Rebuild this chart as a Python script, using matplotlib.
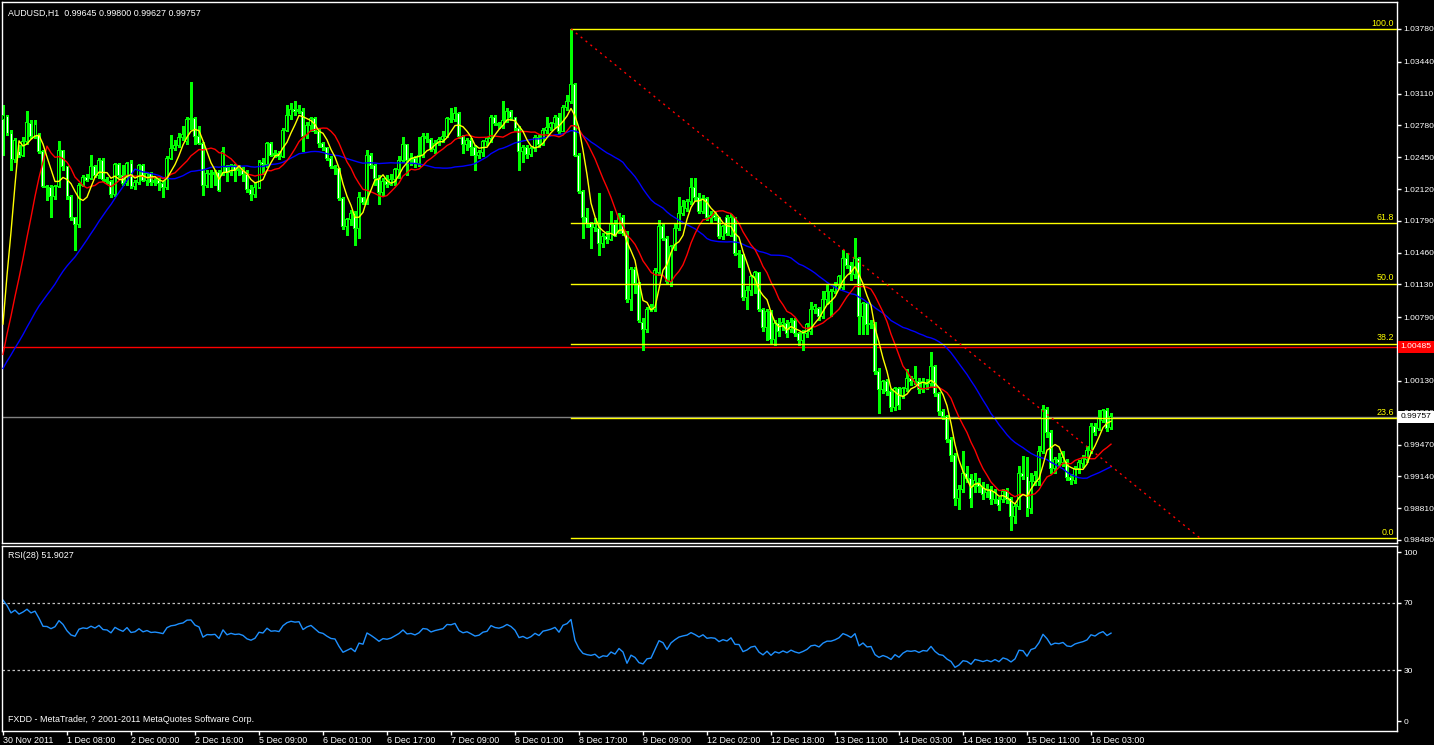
import numpy as np
import pandas as pd
import matplotlib
matplotlib.use("Agg")
import matplotlib.pyplot as plt
from matplotlib import transforms

plt.rcParams['font.family'] = ['Liberation Sans', 'DejaVu Sans']

# -------------------------------
# DATA: AUDUSD H1, first bar 30 Nov 2011 16:00
# -------------------------------
opens = [
    1.0284, 1.0287, 1.0270, 1.0243, 1.0251, 1.0247, 1.0261, 1.0280, 1.0267, 1.0268,
    1.0251, 1.0215, 1.0214, 1.0204, 1.0215, 1.0252, 1.0235, 1.0204, 1.0182, 1.0175,
    1.0216, 1.0224, 1.0223, 1.0235, 1.0226, 1.0242, 1.0222, 1.0220, 1.0206, 1.0237,
    1.0226, 1.0218, 1.0239, 1.0215, 1.0219, 1.0236, 1.0221, 1.0228, 1.0219, 1.0221,
    1.0218, 1.0214, 1.0244, 1.0254, 1.0257, 1.0265, 1.0261, 1.0284, 1.0285, 1.0266,
    1.0259, 1.0216, 1.0228, 1.0227, 1.0229, 1.0228, 1.0234, 1.0229, 1.0236, 1.0231,
    1.0233, 1.0227, 1.0212, 1.0206, 1.0214, 1.0240, 1.0237, 1.0259, 1.0247, 1.0249,
    1.0246, 1.0273, 1.0288, 1.0295, 1.0292, 1.0292, 1.0268, 1.0278, 1.0285, 1.0272,
    1.0259, 1.0255, 1.0244, 1.0235, 1.0233, 1.0202, 1.0173, 1.0180, 1.0187, 1.0171,
    1.0203, 1.0198, 1.0247, 1.0236, 1.0223, 1.0208, 1.0220, 1.0217, 1.0222, 1.0232,
    1.0242, 1.0258, 1.0242, 1.0244, 1.0238, 1.0247, 1.0266, 1.0263, 1.0253, 1.0259,
    1.0263, 1.0267, 1.0285, 1.0284, 1.0290, 1.0266, 1.0258, 1.0262, 1.0255, 1.0247,
    1.0250, 1.0261, 1.0264, 1.0286, 1.0280, 1.0278, 1.0283, 1.0292, 1.0286, 1.0275,
    1.0251, 1.0255, 1.0248, 1.0254, 1.0265, 1.0258, 1.0273, 1.0276, 1.0280, 1.0286,
    1.0272, 1.0297, 1.0303, 1.0320, 1.0247, 1.0209, 1.0183, 1.0176, 1.0172, 1.0171,
    1.0156, 1.0163, 1.0160, 1.0175, 1.0168, 1.0183, 1.0166, 1.0097, 1.0129, 1.0114,
    1.0074, 1.0066, 1.0087, 1.0087, 1.0125, 1.0173, 1.0161, 1.0116, 1.0151, 1.0171,
    1.0187, 1.0192, 1.0199, 1.0214, 1.0203, 1.0189, 1.0202, 1.0182, 1.0185, 1.0182,
    1.0163, 1.0182, 1.0164, 1.0182, 1.0145, 1.0144, 1.0099, 1.0107, 1.0121, 1.0125,
    1.0087, 1.0068, 1.0085, 1.0056, 1.0073, 1.0071, 1.0073, 1.0066, 1.0076, 1.0062,
    1.0055, 1.0062, 1.0064, 1.0087, 1.0088, 1.0080, 1.0097, 1.0093, 1.0106, 1.0112,
    1.0110, 1.0140, 1.0133, 1.0123, 1.0140, 1.0080, 1.0093, 1.0071, 1.0071, 1.0023,
    1.0004, 1.0012, 1.0002, 0.9985, 1.0005, 0.9998, 1.0005, 1.0015, 1.0012, 1.0012,
    1.0004, 1.0011, 1.0010, 1.0028, 1.0000, 0.9981, 0.9976, 0.9952, 0.9936, 0.9891,
    0.9900, 0.9917, 0.9912, 0.9903, 0.9908, 0.9903, 0.9897, 0.9900, 0.9890, 0.9890,
    0.9890, 0.9898, 0.9891, 0.9872, 0.9883, 0.9917, 0.9914, 0.9881, 0.9909, 0.9909,
    0.9940, 0.9983, 0.9959, 0.9922, 0.9931, 0.9928, 0.9929, 0.9913, 0.9910, 0.9922,
    0.9927, 0.9931, 0.9941, 0.9966, 0.9964, 0.9972, 0.9982, 0.99645,
]
highs = [
    1.0299, 1.0289, 1.0273, 1.0265, 1.0258, 1.0266, 1.0293, 1.0284, 1.0284, 1.0270,
    1.0253, 1.0216, 1.0216, 1.0216, 1.0262, 1.0253, 1.0236, 1.0206, 1.0183, 1.0218,
    1.0227, 1.0228, 1.0247, 1.0237, 1.0244, 1.0244, 1.0225, 1.0221, 1.0239, 1.0239,
    1.0237, 1.0240, 1.0242, 1.0221, 1.0238, 1.0238, 1.0230, 1.0230, 1.0225, 1.0223,
    1.0220, 1.0246, 1.0268, 1.0263, 1.0270, 1.0277, 1.0287, 1.0323, 1.0287, 1.0277,
    1.0261, 1.0232, 1.0232, 1.0232, 1.0232, 1.0256, 1.0237, 1.0238, 1.0238, 1.0237,
    1.0235, 1.0232, 1.0216, 1.0218, 1.0242, 1.0244, 1.0261, 1.0261, 1.0252, 1.0251,
    1.0275, 1.0299, 1.0301, 1.0303, 1.0299, 1.0296, 1.0282, 1.0287, 1.0287, 1.0275,
    1.0261, 1.0256, 1.0246, 1.0237, 1.0234, 1.0204, 1.0182, 1.0190, 1.0189, 1.0209,
    1.0204, 1.0252, 1.0249, 1.0238, 1.0227, 1.0223, 1.0227, 1.0228, 1.0234, 1.0246,
    1.0266, 1.0259, 1.0249, 1.0246, 1.0266, 1.0270, 1.0270, 1.0265, 1.0263, 1.0266,
    1.0272, 1.0287, 1.0296, 1.0297, 1.0292, 1.0268, 1.0265, 1.0265, 1.0258, 1.0253,
    1.0263, 1.0266, 1.0289, 1.0289, 1.0282, 1.0303, 1.0296, 1.0294, 1.0287, 1.0277,
    1.0258, 1.0258, 1.0256, 1.0268, 1.0268, 1.0275, 1.0287, 1.0282, 1.0289, 1.0291,
    1.0299, 1.0310, 1.0378, 1.0322, 1.0249, 1.0211, 1.0192, 1.0178, 1.0182, 1.0208,
    1.0166, 1.0168, 1.0189, 1.0180, 1.0187, 1.0185, 1.0168, 1.0131, 1.0131, 1.0116,
    1.0078, 1.0090, 1.0093, 1.0130, 1.0180, 1.0177, 1.0163, 1.0154, 1.0177, 1.0204,
    1.0201, 1.0202, 1.0223, 1.0223, 1.0208, 1.0206, 1.0204, 1.0189, 1.0189, 1.0183,
    1.0175, 1.0185, 1.0186, 1.0183, 1.0149, 1.0145, 1.0111, 1.0123, 1.0127, 1.0126,
    1.0089, 1.0088, 1.0087, 1.0076, 1.0078, 1.0078, 1.0076, 1.0078, 1.0078, 1.0064,
    1.0066, 1.0073, 1.0095, 1.0093, 1.0090, 1.0106, 1.0112, 1.0108, 1.0116, 1.0123,
    1.0149, 1.0146, 1.0136, 1.0161, 1.0142, 1.0095, 1.0095, 1.0076, 1.0074, 1.0026,
    1.0014, 1.0015, 1.0005, 1.0007, 1.0007, 1.0007, 1.0025, 1.0018, 1.0028, 1.0016,
    1.0016, 1.0015, 1.0043, 1.0030, 1.0002, 0.9984, 0.9978, 0.9955, 0.9938, 0.9905,
    0.9940, 0.9925, 0.9916, 0.9917, 0.9912, 0.9908, 0.9906, 0.9904, 0.9901, 0.9893,
    0.9901, 0.9902, 0.9893, 0.9885, 0.9925, 0.9935, 0.9934, 0.9917, 0.9920, 0.9946,
    0.9988, 0.9986, 0.9962, 0.9934, 0.9938, 0.9940, 0.9932, 0.9916, 0.9925, 0.9931,
    0.9936, 0.9945, 0.9969, 0.9969, 0.9983, 0.9984, 0.9985, 0.99800,
]
lows = [
    1.0247, 1.0268, 1.0232, 1.0240, 1.0245, 1.0246, 1.0259, 1.0265, 1.0265, 1.0249,
    1.0214, 1.0201, 1.0183, 1.0202, 1.0214, 1.0232, 1.0202, 1.0180, 1.0149, 1.0173,
    1.0215, 1.0220, 1.0222, 1.0224, 1.0223, 1.0220, 1.0218, 1.0204, 1.0205, 1.0224,
    1.0216, 1.0216, 1.0213, 1.0212, 1.0217, 1.0220, 1.0216, 1.0216, 1.0216, 1.0211,
    1.0204, 1.0212, 1.0243, 1.0253, 1.0256, 1.0263, 1.0259, 1.0274, 1.0259, 1.0259,
    1.0206, 1.0214, 1.0214, 1.0216, 1.0210, 1.0227, 1.0220, 1.0227, 1.0220, 1.0227,
    1.0220, 1.0209, 1.0201, 1.0204, 1.0213, 1.0228, 1.0235, 1.0246, 1.0245, 1.0243,
    1.0245, 1.0272, 1.0285, 1.0289, 1.0291, 1.0251, 1.0265, 1.0272, 1.0270, 1.0256,
    1.0252, 1.0242, 1.0234, 1.0228, 1.0201, 1.0171, 1.0164, 1.0175, 1.0154, 1.0161,
    1.0196, 1.0197, 1.0234, 1.0216, 1.0197, 1.0206, 1.0214, 1.0216, 1.0216, 1.0223,
    1.0240, 1.0227, 1.0237, 1.0235, 1.0236, 1.0245, 1.0261, 1.0251, 1.0249, 1.0258,
    1.0261, 1.0266, 1.0282, 1.0283, 1.0265, 1.0249, 1.0253, 1.0247, 1.0232, 1.0244,
    1.0246, 1.0258, 1.0261, 1.0278, 1.0275, 1.0275, 1.0282, 1.0284, 1.0273, 1.0232,
    1.0240, 1.0244, 1.0246, 1.0251, 1.0256, 1.0258, 1.0270, 1.0273, 1.0276, 1.0270,
    1.0272, 1.0294, 1.0301, 1.0246, 1.0208, 1.0161, 1.0173, 1.0151, 1.0168, 1.0144,
    1.0152, 1.0156, 1.0159, 1.0163, 1.0166, 1.0164, 1.0095, 1.0087, 1.0104, 1.0074,
    1.0045, 1.0064, 1.0085, 1.0085, 1.0123, 1.0159, 1.0114, 1.0111, 1.0149, 1.0170,
    1.0185, 1.0189, 1.0197, 1.0201, 1.0187, 1.0187, 1.0180, 1.0177, 1.0180, 1.0161,
    1.0160, 1.0164, 1.0163, 1.0144, 1.0131, 1.0097, 1.0088, 1.0102, 1.0104, 1.0085,
    1.0065, 1.0055, 1.0052, 1.0050, 1.0060, 1.0066, 1.0059, 1.0064, 1.0060, 1.0050,
    1.0045, 1.0059, 1.0062, 1.0083, 1.0076, 1.0078, 1.0093, 1.0080, 1.0104, 1.0108,
    1.0108, 1.0130, 1.0118, 1.0120, 1.0062, 1.0062, 1.0062, 1.0068, 1.0020, 0.9980,
    1.0000, 0.9998, 0.9982, 0.9983, 0.9984, 0.9995, 1.0003, 1.0009, 1.0010, 1.0000,
    1.0001, 1.0005, 1.0008, 0.9997, 0.9978, 0.9974, 0.9950, 0.9930, 0.9884, 0.9880,
    0.9898, 0.9908, 0.9882, 0.9898, 0.9898, 0.9890, 0.9893, 0.9885, 0.9886, 0.9879,
    0.9887, 0.9886, 0.9858, 0.9866, 0.9880, 0.9911, 0.9873, 0.9876, 0.9905, 0.9905,
    0.9938, 0.9955, 0.9918, 0.9918, 0.9925, 0.9925, 0.9910, 0.9906, 0.9907, 0.9918,
    0.9924, 0.9929, 0.9938, 0.9957, 0.9962, 0.9970, 0.9961, 0.99627,
]
closes = [
    1.0288, 1.0270, 1.0243, 1.0262, 1.0247, 1.0261, 1.0281, 1.0267, 1.0279, 1.0251,
    1.0215, 1.0214, 1.0204, 1.0215, 1.0252, 1.0235, 1.0204, 1.0182, 1.0175, 1.0216,
    1.0224, 1.0221, 1.0235, 1.0226, 1.0242, 1.0222, 1.0220, 1.0206, 1.0237, 1.0226,
    1.0218, 1.0239, 1.0215, 1.0219, 1.0236, 1.0221, 1.0228, 1.0219, 1.0221, 1.0218,
    1.0214, 1.0244, 1.0254, 1.0257, 1.0265, 1.0269, 1.0284, 1.0285, 1.0266, 1.0259,
    1.0216, 1.0228, 1.0227, 1.0229, 1.0211, 1.0251, 1.0229, 1.0236, 1.0231, 1.0233,
    1.0227, 1.0212, 1.0206, 1.0214, 1.0240, 1.0237, 1.0259, 1.0247, 1.0249, 1.0246,
    1.0273, 1.0288, 1.0295, 1.0292, 1.0294, 1.0266, 1.0278, 1.0285, 1.0272, 1.0259,
    1.0255, 1.0244, 1.0235, 1.0233, 1.0202, 1.0173, 1.0180, 1.0187, 1.0171, 1.0203,
    1.0198, 1.0247, 1.0236, 1.0223, 1.0208, 1.0220, 1.0217, 1.0222, 1.0232, 1.0242,
    1.0258, 1.0242, 1.0244, 1.0238, 1.0247, 1.0266, 1.0264, 1.0253, 1.0259, 1.0263,
    1.0267, 1.0285, 1.0284, 1.0290, 1.0266, 1.0258, 1.0262, 1.0255, 1.0247, 1.0250,
    1.0261, 1.0264, 1.0286, 1.0280, 1.0278, 1.0283, 1.0292, 1.0286, 1.0275, 1.0251,
    1.0255, 1.0248, 1.0254, 1.0265, 1.0258, 1.0273, 1.0276, 1.0280, 1.0286, 1.0272,
    1.0297, 1.0303, 1.0320, 1.0247, 1.0209, 1.0183, 1.0176, 1.0172, 1.0176, 1.0156,
    1.0163, 1.0160, 1.0175, 1.0164, 1.0184, 1.0166, 1.0097, 1.0129, 1.0114, 1.0076,
    1.0066, 1.0087, 1.0090, 1.0128, 1.0173, 1.0161, 1.0116, 1.0152, 1.0171, 1.0187,
    1.0194, 1.0199, 1.0214, 1.0203, 1.0189, 1.0202, 1.0182, 1.0185, 1.0182, 1.0163,
    1.0173, 1.0166, 1.0182, 1.0145, 1.0144, 1.0099, 1.0107, 1.0121, 1.0125, 1.0087,
    1.0068, 1.0085, 1.0056, 1.0073, 1.0064, 1.0074, 1.0062, 1.0074, 1.0062, 1.0055,
    1.0062, 1.0071, 1.0087, 1.0090, 1.0080, 1.0097, 1.0106, 1.0106, 1.0112, 1.0121,
    1.0140, 1.0133, 1.0123, 1.0140, 1.0080, 1.0093, 1.0071, 1.0073, 1.0023, 1.0004,
    1.0012, 1.0002, 0.9985, 1.0005, 0.9987, 1.0005, 1.0015, 1.0012, 1.0015, 1.0004,
    1.0012, 1.0009, 1.0028, 1.0000, 0.9981, 0.9976, 0.9952, 0.9936, 0.9891, 0.9900,
    0.9917, 0.9912, 0.9891, 0.9910, 0.9903, 0.9895, 0.9900, 0.9890, 0.9898, 0.9884,
    0.9898, 0.9890, 0.9872, 0.9883, 0.9917, 0.9914, 0.9881, 0.9909, 0.9915, 0.9940,
    0.9983, 0.9959, 0.9922, 0.9931, 0.9928, 0.9934, 0.9913, 0.9910, 0.9922, 0.9928,
    0.9933, 0.9941, 0.9966, 0.9960, 0.9974, 0.9982, 0.9964, 0.99757,
]

time_labels = [
    "30 Nov 2011", "1 Dec 08:00", "2 Dec 00:00", "2 Dec 16:00", "5 Dec 09:00",
    "6 Dec 01:00", "6 Dec 17:00", "7 Dec 09:00", "8 Dec 01:00", "8 Dec 17:00",
    "9 Dec 09:00", "12 Dec 02:00", "12 Dec 18:00", "13 Dec 11:00", "14 Dec 03:00",
    "14 Dec 19:00", "15 Dec 11:00", "16 Dec 03:00",
]
bars_per_label = 16

price_ticks = [1.03780, 1.03440, 1.03110, 1.02780, 1.02450, 1.02120, 1.01790,
               1.01460, 1.01130, 1.00790, 1.00460, 1.00130, 0.99800, 0.99470,
               0.99140, 0.98810, 0.98480]
rsi_ticks = [100, 70, 30, 0]
rsi_levels = [70, 30]

fib_bars = [142, 299.25]
fib_prices = [1.0378, 0.9850]
fib_levels = [0.0, 23.6, 38.2, 50.0, 61.8, 100.0]

hline_price = 1.00485
bid_price = 0.99757

ma_periods = [5, 12, 34]
ma_colors = ['#FFFF00', '#FF0000', '#0000FF']
pre_close = 1.0018      # price level before the first bar on screen
rsi_period = 28
rsi_start = 71.5

title_text = "AUDUSD,H1  0.99645 0.99800 0.99627 0.99757"
rsi_text = "RSI(28) 51.9027"
footer_text = "FXDD - MetaTrader, ? 2001-2011 MetaQuotes Software Corp."

assert len(opens) == len(highs) == len(lows) == len(closes)

# -------------------------------
# FIGURE LAYOUT (pixels of a 1434x745 window)
# -------------------------------
W, H = 1434, 745
fig = plt.figure(figsize=(W / 100, H / 100), dpi=100, facecolor='black')


def px_axes(x0, y0, x1, y1):
    return fig.add_axes([x0 / W, 1 - y1 / H, (x1 - x0) / W, (y1 - y0) / H])


ax = px_axes(2, 2, 1397, 543)
ax_rsi = px_axes(2, 546, 1397, 731)

FG = 'white'
LIME = '#00FF00'
FS = 6.4
AX_FS = 6.1

for a in (ax, ax_rsi):
    a.set_facecolor('black')
    for s in a.spines.values():
        s.set_color(FG)
        s.set_linewidth(1)

n = len(closes)
x = np.arange(n)
o = np.array(opens)
h = np.array(highs)
l = np.array(lows)
c = np.array(closes)

ax.set_xlim(-0.25, 348.5)
ax.set_ylim(0.984488, 1.040600)
ax_rsi.set_xlim(-0.25, 348.5)
ax_rsi.set_ylim(-5.9, 103.55)

# one screen pixel in price units (for the 1px candle outline)
px_price = (1.040600 - 0.984488) / 541

# -------------------------------
# CANDLES: lime outline, white body when down, black when up
# -------------------------------
ax.vlines(x, l, h, color=LIME, lw=1, antialiased=False, zorder=2)
body_lo = np.minimum(o, c)
body_h = np.maximum(np.abs(c - o), px_price)
ax.bar(x, body_h + px_price, bottom=body_lo - px_price / 2, width=0.75,
       color=LIME, linewidth=0, antialiased=False, zorder=3)
inner = body_h > 2 * px_price
fill = np.where(c >= o, 'black', 'white')
ax.bar(x[inner], body_h[inner] - px_price, bottom=body_lo[inner] + px_price / 2,
       width=0.25, color=fill[inner], linewidth=0, antialiased=False, zorder=3.5)

# -------------------------------
# MOVING AVERAGES
# -------------------------------
n_pad = max(ma_periods)
padded = pd.Series([pre_close] * n_pad + closes)
for p, col in zip(ma_periods[::-1], ma_colors[::-1]):
    ma = padded.rolling(p).mean().iloc[n_pad:].to_numpy()
    ax.plot(x, ma, color=col, lw=1, zorder=4)

# -------------------------------
# LINES: horizontal line, bid line, fibonacci
# -------------------------------
ax.axhline(hline_price, color='#FF0000', lw=1, zorder=1)
ax.axhline(bid_price, color='#808080', lw=1, zorder=1)

right = 348.5
fib_hi, fib_lo = fib_prices
yax = transforms.blended_transform_factory(ax.transAxes, ax.transData)
for lvl in fib_levels:
    yv = fib_lo + lvl / 100 * (fib_hi - fib_lo)
    ax.plot([fib_bars[0], right], [yv, yv], color='#FFFF00', lw=1, zorder=5)
    ax.text(1 - 3 / 1395, yv + 0.00012, f"{lvl:.1f}", transform=yax,
            ha='right', va='bottom', color='#FFFF00', fontsize=FS, zorder=6)
ax.plot(fib_bars, fib_prices, color='#FF0000', lw=1,
        linestyle=(0, (1.5, 3)), zorder=5)

# -------------------------------
# PRICE AXIS
# -------------------------------
ax.yaxis.tick_right()
ax.set_yticks(price_ticks)
# the 1.00460 label sits fully under the red line label, as in the terminal
ax.set_yticklabels(["" if abs(t - hline_price) < 0.0003 else f"{t:.5f}"
                    for t in price_ticks])
ax.tick_params(axis='y', colors=FG, labelcolor=FG, length=3, width=1,
               labelsize=AX_FS, pad=1.5)
ax.tick_params(axis='x', bottom=False, labelbottom=False)

ax.text(1 + 3.5 / 1395, hline_price, f"{hline_price:.5f}", transform=yax,
        ha='left', va='center', color='white', fontsize=AX_FS, clip_on=False,
        zorder=10, bbox=dict(boxstyle='square,pad=0.3', fc='#FF0000', ec='none'))
ax.text(1 + 3.5 / 1395, bid_price, f"{bid_price:.5f}", transform=yax,
        ha='left', va='center', color='black', fontsize=AX_FS, clip_on=False,
        zorder=10, bbox=dict(boxstyle='square,pad=0.3', fc='white', ec='none'))

ax.text(6 / 1395, 1 - 11 / 541, title_text, transform=ax.transAxes,
        ha='left', va='center', color=FG, fontsize=FS)

# -------------------------------
# RSI
# -------------------------------
d = np.diff(c)
mag = np.mean(np.abs(d))
g = rsi_start / 100 * mag
ls = (1 - rsi_start / 100) * mag
rsi = [rsi_start]
for dd in d:
    g = (g * (rsi_period - 1) + max(dd, 0)) / rsi_period
    ls = (ls * (rsi_period - 1) + max(-dd, 0)) / rsi_period
    rsi.append(100 * g / (g + ls))

for lv in rsi_levels:
    ax_rsi.axhline(lv, color='#C0C0C0', lw=0.9, linestyle=(0, (2, 2)))
ax_rsi.plot(x, rsi, color='#1E90FF', lw=1)

ax_rsi.yaxis.tick_right()
ax_rsi.set_yticks(rsi_ticks)
ax_rsi.set_yticklabels([str(t) for t in rsi_ticks])
ax_rsi.tick_params(axis='y', colors=FG, labelcolor=FG, length=3, width=1,
                   labelsize=AX_FS, pad=1.5)

ax_rsi.set_xticks(np.arange(len(time_labels)) * bars_per_label)
ax_rsi.set_xticklabels(time_labels, ha='left')
ax_rsi.tick_params(axis='x', colors=FG, labelcolor=FG, length=3, width=1,
                   labelsize=FS, pad=0.5)

ax_rsi.text(6 / 1395, 1 - 10 / 185, rsi_text, transform=ax_rsi.transAxes,
            ha='left', va='center', color=FG, fontsize=FS)
ax_rsi.text(6 / 1395, 12 / 185, footer_text, transform=ax_rsi.transAxes,
            ha='left', va='center', color=FG, fontsize=FS)

fig.savefig("out.png", dpi=100, facecolor='black')
